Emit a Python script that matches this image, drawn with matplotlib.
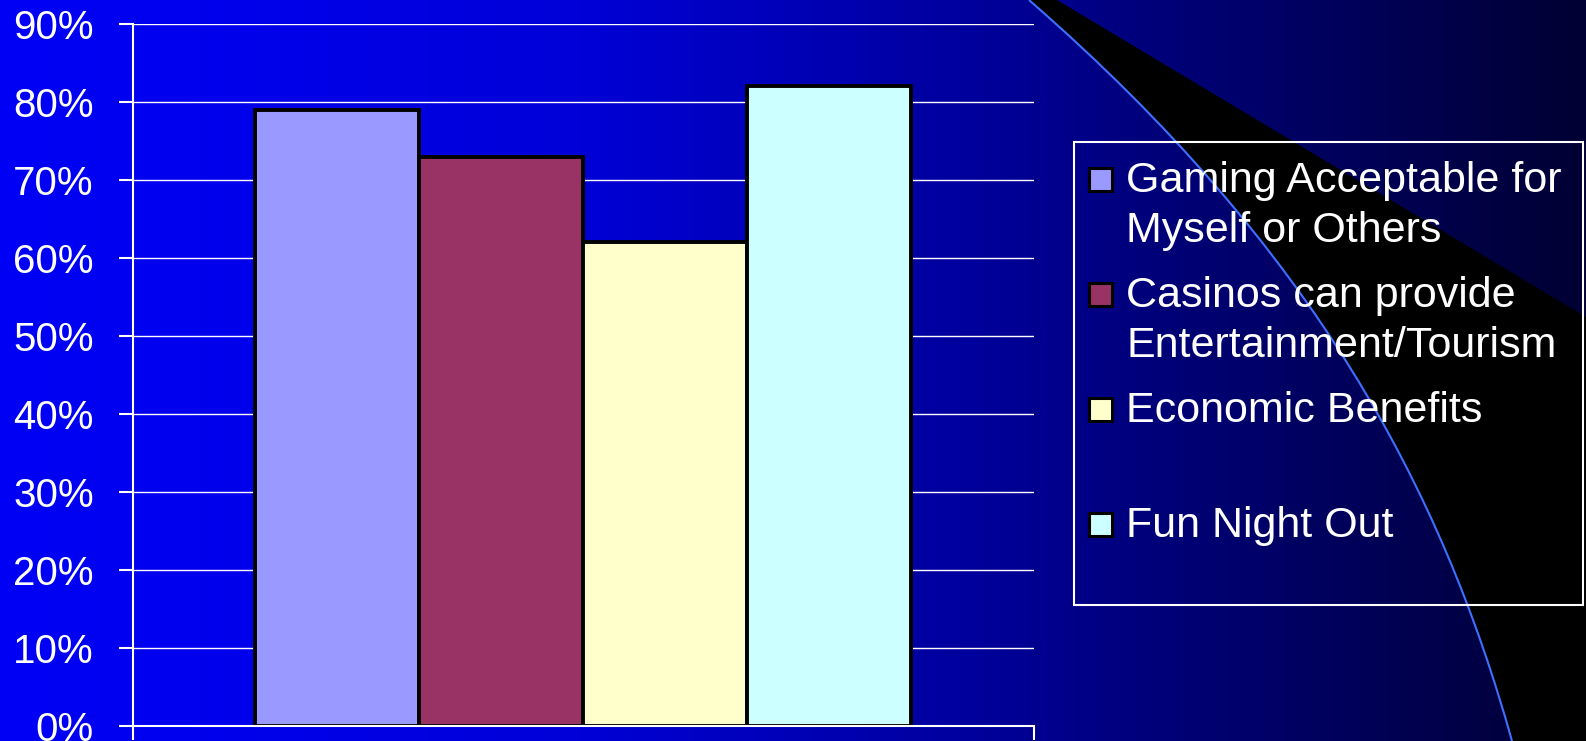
import matplotlib
matplotlib.use("Agg")
import matplotlib.pyplot as plt
import numpy as np
from matplotlib.colors import LinearSegmentedColormap
from matplotlib.patches import Rectangle, PathPatch
from matplotlib.path import Path
from matplotlib.ticker import PercentFormatter

plt.rcParams['font.family'] = ['Liberation Sans', 'DejaVu Sans']

# survey answers, share of respondents (%)
labels = ["Gaming Acceptable for\nMyself or Others",
          "Casinos can provide\nEntertainment/Tourism",
          "Economic Benefits",
          "Fun Night Out"]
values = [79, 73, 62, 82]
colors = ['#9999FF', '#993366', '#FFFFCC', '#CCFFFF']
yticks = np.arange(0, 91, 10)

W, H = 1586, 741
fig = plt.figure(figsize=(W / 100, H / 100), dpi=100)

# slide background: blue fading to navy, black swoosh on the right
bg = fig.add_axes([0, 0, 1, 1], zorder=0)
stops = [(0, 245), (160, 240), (580, 215), (980, 155), (1120, 128),
         (1320, 95), (1560, 56), (1586, 52)]
cmap = LinearSegmentedColormap.from_list(
    'slide', [(x / W, (0, 0, b / 255)) for x, b in stops])
bg.imshow(np.linspace(0, 1, W).reshape(1, -1), cmap=cmap, aspect='auto',
          extent=[0, W, H, 0])
M, L, C, CL = Path.MOVETO, Path.LINETO, Path.CURVE4, Path.CLOSEPOLY
wedge = Path([(1057, 0), (1586, 317), (1586, 741), (1512, 741),
              (1442, 491), (1316, 250), (1029, 0), (1057, 0)],
             [M, L, L, L, C, C, C, CL])
bg.add_patch(PathPatch(wedge, fc='black', ec='none'))
arc = Path([(1029, 0), (1316, 250), (1442, 491), (1512, 741)], [M, C, C, C])
bg.add_patch(PathPatch(arc, fc='none', ec='#3F6FFF', lw=1.5))
bg.set_xlim(0, W)
bg.set_ylim(H, 0)
bg.axis('off')

# bar chart
ax = fig.add_axes([132.5 / W, (H - 726) / H, (1034 - 132.5) / W, (726 - 24) / H],
                  zorder=1)
ax.patch.set_alpha(0)
w = 0.182
x = (np.arange(len(values)) - 1.5) * w
ax.bar(x, values, width=w, color=colors, edgecolor='black', linewidth=2.8,
       zorder=2)
ax.set_xlim(-0.5, 0.5)
ax.set_ylim(0, 90)
ax.set_yticks(yticks)
ax.yaxis.set_major_formatter(PercentFormatter(decimals=0))
ax.set_xticks([-0.5, 0.5])
ax.set_xticklabels([])
ax.grid(axis='y', color='white', lw=1.0)
ax.set_axisbelow(True)
for s in ['top', 'right']:
    ax.spines[s].set_visible(False)
for s in ['left', 'bottom']:
    ax.spines[s].set_color('white')
    ax.spines[s].set_linewidth(1.5)
ax.tick_params(colors='white', labelcolor='white', labelsize=29, length=10,
               width=1.5, direction='out', pad=18)

# legend box, one two-line slot per entry
lg = fig.add_axes([0, 0, 1, 1], zorder=3)
lg.set_xlim(0, W)
lg.set_ylim(H, 0)
lg.axis('off')
lg.add_patch(Rectangle((1074, 142), 1583 - 1074, 605 - 142, fill=False,
                       ec='white', lw=1.5))
for i, (lab, c) in enumerate(zip(labels, colors)):
    base = 192 + 115 * i
    lg.add_patch(Rectangle((1089, base - 24), 23, 23, fc=c, ec='black', lw=2.2))
    # baseline alignment uses the last line, so push multi-line labels down
    lg.text(1126, base + 50 * lab.count('\n'), lab, color='white', fontsize=31,
            va='baseline', ha='left', linespacing=1.33)

fig.savefig('out.png', dpi=100)
